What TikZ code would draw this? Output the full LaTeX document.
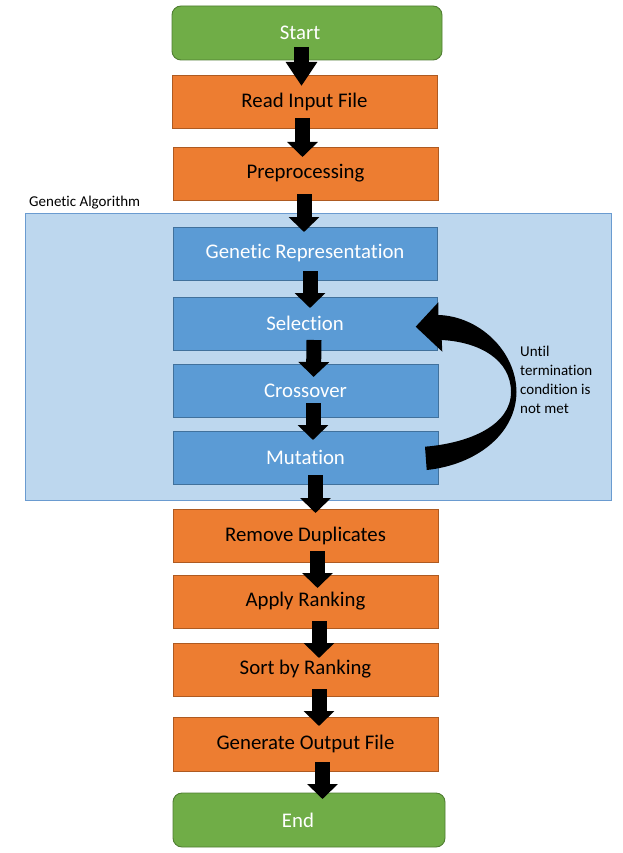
\documentclass[tikz,border=0pt]{standalone}
\usepackage{fontspec}
\setmainfont{Carlito}[Ligatures={NoCommon,NoContextual,NoRequired,NoRare},Contextuals={NoAlternate},RawFeature={-liga;-calt;-clig}]
\usetikzlibrary{arrows.meta,calc}
\definecolor{gfill}{HTML}{70AD47}
\definecolor{gdraw}{HTML}{507E32}
\definecolor{ofill}{HTML}{ED7D31}
\definecolor{odraw}{HTML}{AE5A21}
\definecolor{bfill}{HTML}{5B9BD5}
\definecolor{bdraw}{HTML}{41719C}
\definecolor{cfill}{HTML}{BDD7EE}
\definecolor{cdraw}{HTML}{6A9BD0}
\tikzset{
  box/.style={rectangle, inner sep=0pt, outer sep=0pt, line width=0.9pt,
    minimum width=265pt, minimum height=53pt, font=\fontsize{20.8}{24}\selectfont},
  greenbox/.style={box, fill=gfill, draw=gdraw, text=white, rounded corners=9pt,
    minimum width=270pt, minimum height=54pt},
  orangebox/.style={box, fill=ofill, draw=odraw, text=black},
  bluebox/.style={box, fill=bfill, draw=bdraw, text=white},
  blockarrow/.style={draw=black, line width=15pt,
    -{Triangle[width=30pt,length=15pt]}},
  longhead/.style={draw=black, line width=15pt,
    -{Triangle[width=30pt,length=24pt]}},
  smalltext/.style={inner sep=0pt, font=\fontsize{15}{19}\selectfont, text=black}
}
\begin{document}
\begin{tikzpicture}[x=1pt,y=-1pt]
\useasboundingbox (0,0) rectangle (622,853);
% container
\node[rectangle, fill=cfill, draw=cdraw, line width=0.9pt, inner sep=0pt,
  minimum width=586pt, minimum height=287pt] (ga) at (318,356.5) {};
\node[smalltext, anchor=west] (galabel) at (29,203) {Genetic Algorithm};
% nodes
\node[greenbox] (start) at (307,33) {\hspace*{-14pt}Start};
\node[orangebox] (read) at (304.5,101.5) {Read Input File};
\node[orangebox] (prep) at (305.5,173.5) {Preprocessing};
\node[bluebox, minimum width=264pt] (genrep) at (305,253.5) {Genetic Representation};
\node[bluebox, minimum width=264pt] (sel) at (305,323.5) {Selection};
\node[bluebox] (cross) at (305.5,390.5) {Crossover};
\node[bluebox] (mut) at (305.5,457.5) {Mutation};
\node[orangebox] (remdup) at (305.5,535.5) {Remove Duplicates};
\node[orangebox] (apply) at (305.5,601.5) {Apply Ranking};
\node[orangebox] (sort) at (305.5,669.5) {Sort by Ranking};
\node[orangebox, minimum height=54pt] (gen) at (305.5,744) {Generate Output File};
\node[greenbox, minimum width=272pt] (end) at (309,820) {\hspace*{-22pt}End};
% block arrows
\draw[longhead] ($(start.south)+(-5.5,-13)$) -- ($(read.north)+(-3,11)$);
\draw[blockarrow] ($(read.south)+(-2,-10)$) -- ($(prep.north)+(-3,10)$);
\draw[blockarrow] ($(prep.south)+(-1.5,-6)$) -- ($(genrep.north)+(-1,5)$);
\draw[blockarrow] ($(genrep.south)+(5,-9)$) -- ($(sel.north)+(5,11)$);
\draw[blockarrow] ($(sel.south)+(9,-10)$) -- ($(cross.north)+(8,13)$);
\draw[blockarrow] ($(cross.south)+(7.5,-14)$) -- ($(mut.north)+(7.5,9)$);
\draw[blockarrow] ($(mut.south)+(10,-9)$) -- ($(remdup.north)+(10,4)$);
\draw[blockarrow] ($(remdup.south)+(12,-11)$) -- ($(apply.north)+(12,13)$);
\draw[blockarrow] ($(apply.south)+(13.5,-7)$) -- ($(sort.north)+(13.5,15)$);
\draw[blockarrow] ($(sort.south)+(13.5,-7)$) -- ($(gen.north)+(13.5,9)$);
\draw[blockarrow] ($(gen.south)+(17,-9)$) -- ($(end.north)+(13.5,6)$);
% curved loop arrow from Mutation back to Selection
\begin{scope}[shift={(sel.east)}]
\fill[black] (-21.3,3.2) -- (1.3,-21.2) -- (1.3,-8.5)
  .. controls (41,-7.5) and (79,26.5) .. (79.5,68.5)
  .. controls (79,111.5) and (38,141.5) .. (-10.3,146.5)
  -- (-12,123.2)
  .. controls (33,119.5) and (74,101.5) .. (74,68.5)
  .. controls (74,36.5) and (43,18.5) .. (4.7,16.5)
  -- (5.3,28.2) -- cycle;
\end{scope}
\node[smalltext, anchor=west, align=left] (cond) at (520,380)
  {Until\\termination\\condition is\\not met};
\end{tikzpicture}
\end{document}
